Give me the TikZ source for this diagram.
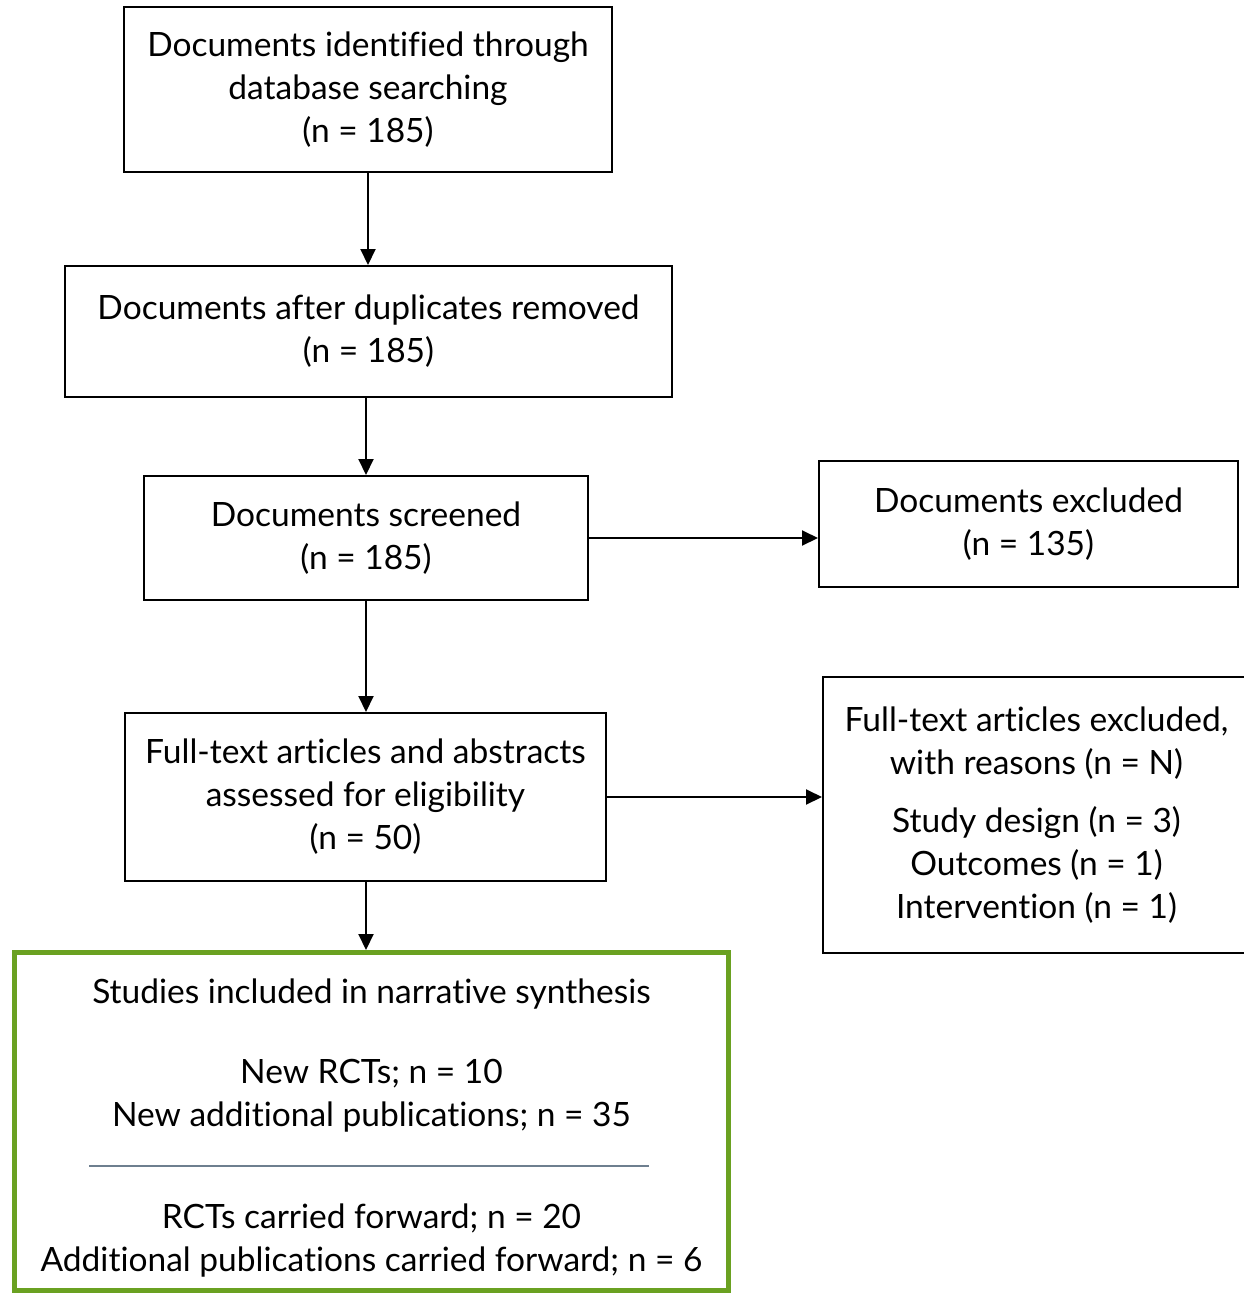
\documentclass[tikz,border=0pt]{standalone}
\usepackage{fontspec}
\setmainfont{Lato}[Ligatures={NoCommon}]
\usetikzlibrary{arrows.meta}
\definecolor{boxGreen}{HTML}{6AA121}
\definecolor{ruleGrey}{HTML}{6E7F8F}
\newcommand{\nline}[1]{(n = #1)}

\begin{document}
\begin{tikzpicture}[x=1pt,y=-1pt,%%
  textStyle/.style={align=center,inner sep=0pt,font=\fontsize{33.5}{43}\selectfont},%%
  boxStyle/.style={textStyle,draw=black,line width=2pt},%%
  greenStyle/.style={draw=boxGreen,line width=5pt,inner sep=0pt},%%
  arrowStyle/.style={-{Triangle[length=16pt,width=15pt]},line width=2pt},%%
  ruleStyle/.style={-,draw=ruleGrey,line width=1.8pt}
]
%%
\useasboundingbox (0,0) rectangle (1243,1296);
%%
%% The boxes of the main column.
\node[boxStyle,minimum width=488pt,minimum height=165pt] (identified) at (368,89.5)
  {Documents identified through\\database searching\\\nline{185}};
\node[boxStyle,minimum width=607pt,minimum height=131pt] (duplicates) at (368.5,331.5)
  {Documents after duplicates removed\\\nline{185}};
\node[boxStyle,minimum width=444pt,minimum height=124pt] (screened) at (366,538)
  {Documents screened\\\nline{185}};
\node[boxStyle,minimum width=481pt,minimum height=168pt] (eligible) at (365.5,797)
  {Full-text articles and abstracts\\assessed for eligibility\\\nline{50}};
%%
%% The boxes on the right.
\node[boxStyle,minimum width=419pt,minimum height=126pt] (excluded) at (1028.5,524)
  {Documents excluded\\\nline{135}};
\node[boxStyle,minimum width=427pt,minimum height=276pt] (reasons) at (1036.5,815)
  {Full-text articles excluded,\\with reasons \nline{N}\\[15pt]%%
   Study design \nline{3}\\Outcomes \nline{1}\\Intervention \nline{1}};
%%
%% The included studies.
\node[greenStyle,minimum width=714pt,minimum height=338pt] (included) at (371.5,1121.5) {};
\node[textStyle] (includedText) at ([yshift=-7pt]included.center)
  {Studies included in narrative synthesis\\[37pt]%%
   New RCTs; n = 10\\New additional publications; n = 35\\[59pt]%%
   RCTs carried forward; n = 20\\Additional publications carried forward; n = 6};
\coordinate (ruleStart) at (89,1166);
\coordinate (ruleEnd) at (649,1166);
\draw[ruleStyle] (ruleStart) -- (ruleEnd);
%%
%% The arrows.
\draw[arrowStyle] (identified.south) -- (duplicates.north -| identified.south);
\draw[arrowStyle] (duplicates.south -| screened.north) -- (screened.north);
\draw[arrowStyle] (screened.south) -- (eligible.north -| screened.south);
\draw[arrowStyle] (eligible.south -| screened.south) -- (included.north -| screened.south);
\draw[arrowStyle] (screened.east) -- (screened.east -| excluded.west);
\draw[arrowStyle] (eligible.east) -- (eligible.east -| reasons.west);
\end{tikzpicture}
\end{document}
